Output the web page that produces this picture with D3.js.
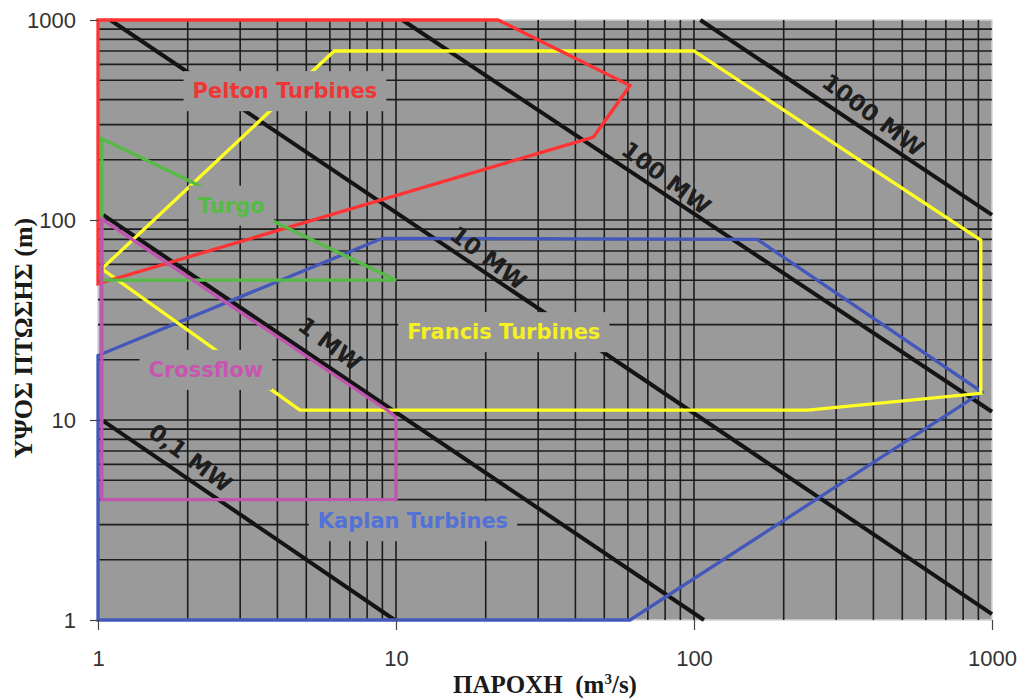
<!DOCTYPE html>
<html>
<head>
<meta charset="utf-8">
<script src="https://cdn.jsdelivr.net/npm/d3@7"></script>
<style>
  html, body { margin: 0; padding: 0; background: #fff; }
  svg { display: block; }
</style>
</head>
<body>
<svg id="chart" width="1017" height="700"></svg>
<script>
// ---------- DATA ----------
const xTickValues = [1, 10, 100, 1000];
const yTickValues = [1, 10, 100, 1000];
const xTitle = "ΠΑΡΟΧΗ";
const xUnit = ["(m", "3", "/s)"];
const yTitle = "ΥΨΟΣ ΠΤΩΣΗΣ (m)";

// iso-power lines: [Q, H] endpoints (m3/s, m)
const powerNames = ["0,1 MW", "1 MW", "10 MW", "100 MW", "1000 MW"];
const powerLines = [
  [[1.04, 9.9], [9.9, 1]],
  [[1.04, 106], [108, 1]],
  [[1.1, 1000], [1000, 1.07]],
  [[10.5, 1000], [1000, 11]],
  [[105, 1000], [1000, 106]]
];

// turbine application ranges: polygon vertices [Q, H]
const turbineNames = ["Kaplan Turbines", "Francis Turbines", "Pelton Turbines", "Turgo", "Crossflow"];
const kaplan   = [[1, 1], [1, 21], [9, 81], [163, 80], [926, 13.8], [61, 1]];
const francis  = [[1.03, 57], [6.2, 700], [100, 700], [917, 79.4], [917, 13.6], [241, 11.2], [4.76, 11.2]];
const pelton   = [[1, 1000], [22, 1000], [61, 470], [46, 260], [1, 48]];
const turgo    = [[1.03, 255], [10, 50], [1.03, 50]];
const crossflow = [[1.03, 101], [9.5, 11], [10, 10.3], [10, 4], [1.03, 4]];

// ---------- LAYOUT / STYLE ----------
const W = 1017, H = 700;
const plot = { left: 98, right: 992, top: 20, bottom: 620 };
const colors = {
  "Kaplan Turbines": { line: "#4458bb", text: "#5272d8" },
  "Francis Turbines": { line: "#ffff22", text: "#f5f020" },
  "Pelton Turbines": { line: "#ff3333", text: "#f03535" },
  "Turgo": { line: "#55bb44", text: "#55bb44" },
  "Crossflow": { line: "#c055b0", text: "#c855b0" }
};
// label anchors in data coordinates
const turbineLabelAt = {
  "Pelton Turbines": [4.24, 441],
  "Turgo": [2.80, 118],
  "Francis Turbines": [23.0, 27.5],
  "Crossflow": [2.30, 17.8],
  "Kaplan Turbines": [11.4, 3.12]
};
const powerLabelAt = [[2.04, 6.46], [6.0, 24], [20.4, 64.6], [80.6, 162], [399, 335]];

const svg = d3.select("#chart");
const x = d3.scaleLog().domain([1, 1000]).range([plot.left, plot.right]);
const y = d3.scaleLog().domain([1, 1000]).range([plot.bottom, plot.top]);

// background
svg.append("rect")
  .attr("x", plot.left).attr("y", plot.top)
  .attr("width", plot.right - plot.left).attr("height", plot.bottom - plot.top)
  .attr("fill", "#9a9a9a").attr("stroke", "#d4d4d4").attr("stroke-width", 1.5);

// grid
const grid = svg.append("g");
grid.selectAll("line.v").data(x.ticks().filter(d => d > 1 && d < 1000)).join("line")
  .attr("x1", d => x(d)).attr("x2", d => x(d))
  .attr("y1", plot.top).attr("y2", plot.bottom)
  .attr("stroke", "#1c1c1c").attr("stroke-width", 1.6);
grid.selectAll("line.h").data(y.ticks().filter(d => d > 1 && d < 1000)).join("line")
  .attr("y1", d => y(d)).attr("y2", d => y(d))
  .attr("x1", plot.left).attr("x2", plot.right)
  .attr("stroke", "#1c1c1c").attr("stroke-width", 1.6);

const line = d3.line().x(d => x(d[0])).y(d => y(d[1]));

// iso-power lines
svg.append("g").selectAll("path").data(powerLines).join("path")
  .attr("d", d => line(d))
  .attr("fill", "none").attr("stroke", "#141414").attr("stroke-width", 4);

// turbine polygons
const polys = [kaplan, francis, pelton, turgo, crossflow];
svg.append("g").selectAll("path").data(polys).join("path")
  .attr("d", d => line(d) + "Z")
  .attr("fill", "none")
  .attr("stroke", (d, i) => colors[turbineNames[i]].line)
  .attr("stroke-width", 3.3)
  .attr("stroke-linejoin", "miter");

// turbine labels with grey box
const lab = svg.append("g");
turbineNames.forEach(name => {
  const p = turbineLabelAt[name];
  const g = lab.append("g");
  const t = g.append("text")
    .attr("x", x(p[0])).attr("y", y(p[1]))
    .attr("text-anchor", "middle")
    .attr("dominant-baseline", "central")
    .attr("font-family", "DejaVu Sans")
    .attr("font-weight", "bold")
    .attr("font-size", 21)
    .attr("fill", colors[name].text)
    .text(name);
  const bb = t.node().getBBox();
  g.insert("rect", "text")
    .attr("x", bb.x - 9).attr("y", bb.y - 8)
    .attr("width", bb.width + 18).attr("height", bb.height + 16)
    .attr("fill", "#9a9a9a");
});

// power labels
svg.append("g").selectAll("text").data(powerNames).join("text")
  .attr("transform", (d, i) => `translate(${x(powerLabelAt[i][0])},${y(powerLabelAt[i][1])}) rotate(37)`)
  .attr("text-anchor", "middle")
  .attr("dominant-baseline", "central")
  .attr("font-family", "DejaVu Sans")
  .attr("font-weight", "bold")
  .attr("font-size", 23)
  .attr("fill", "#1e1e1e")
  .text(d => d);

// axes
const xAxis = svg.append("g").attr("transform", `translate(0,${plot.bottom})`)
  .call(d3.axisBottom(x).tickValues(xTickValues).tickFormat(d3.format("d")).tickSize(10).tickPadding(20));
const yAxis = svg.append("g").attr("transform", `translate(${plot.left},0)`)
  .call(d3.axisLeft(y).tickValues(yTickValues).tickFormat(d3.format("d")).tickSize(8).tickPadding(14));
[xAxis, yAxis].forEach(a => {
  a.select(".domain").remove();
  a.selectAll(".tick line").attr("stroke", "#444").attr("stroke-width", 1.2);
  a.selectAll(".tick text").attr("font-family", "Liberation Sans").attr("font-size", 22).attr("fill", "#333");
});

// axis titles
const xt = svg.append("text")
  .attr("x", 545).attr("y", 693)
  .attr("text-anchor", "middle")
  .attr("font-family", "Liberation Serif").attr("font-weight", "bold").attr("font-size", 25)
  .attr("fill", "#1a1a1a").style("white-space", "pre");
xt.append("tspan").text(xTitle + "  " + xUnit[0]);
xt.append("tspan").attr("dy", -9).attr("font-size", 15).text(xUnit[1]);
xt.append("tspan").attr("dy", 9).text(xUnit[2]);

svg.append("text")
  .attr("transform", `translate(32,338) rotate(-90)`)
  .attr("text-anchor", "middle")
  .attr("font-family", "Liberation Serif").attr("font-weight", "bold").attr("font-size", 26)
  .attr("fill", "#1a1a1a").style("white-space", "pre")
  .text(yTitle);
</script>
</body>
</html>
